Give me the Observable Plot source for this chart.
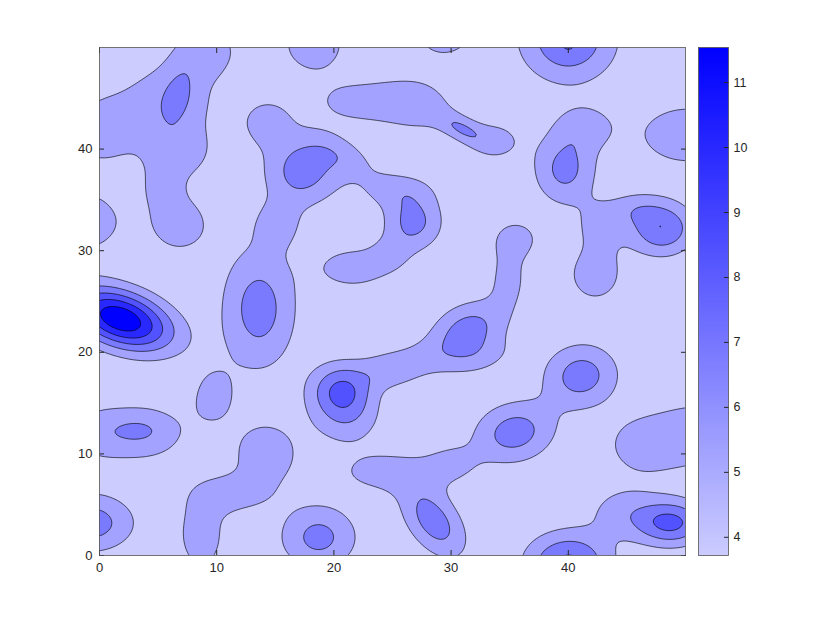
<!DOCTYPE html>
<html><head><meta charset="utf-8">
<script src="https://cdn.jsdelivr.net/npm/d3@7"></script>
<script src="https://cdn.jsdelivr.net/npm/@observablehq/plot@0.6"></script>
<style>
body{margin:0;background:#fff}
#wrap{position:relative;width:830px;height:623px}
#wrap svg{position:absolute;left:0;top:0}
</style>
</head><body><div id="wrap"></div>
<script>
// ---- data ----
const xTicks = [0, 10, 20, 30, 40];
const yTicks = [0, 10, 20, 30, 40];
const cbTicks = [4, 5, 6, 7, 8, 9, 10, 11];
const zMin = 3.72, zMax = 11.54;
const levels = [5.28, 6.85, 8.41, 9.98, 11.54];
const baseValue = 3.72;
const colorLow = "#ccccff", colorHigh = "#0000ff";
const bumpX     = [1.8, 6.0, 6.7, 0.0, 9.2, 6.8, 5.3, 6.8, -1.2, 18.3, 29.4, 22.5, 27.2, 30.9, 33.8, 40.0, 40.0, 39.7, 41.4, 48.0, 42.3, 42.6, 45.5, 50.2, 17.3, 14.3, 20.8, 25.3, 26.8, 21.6, 15.2, 24.8, 13.6, 9.7, 3.8, 3.2, -0.5, -0.8, 14.2, 11.2, 8.7, 18.7, 20.6, 21.2, 24.6, 31.4, 27.2, 34.9, 35.6, 32.5, 24.3, 28.5, 30.0, 35.4, 41.1, 46.3, 51.2, 40.0, 48.8, 44.5];
const bumpY     = [23.3, 44.5, 45.4, 41.7, 49.8, 32.6, 36.3, 39.5, 32.8, 50.3, 51.6, 44.6, 44.3, 42.0, 40.8, 50.8, 50.2, 38.0, 42.2, 32.2, 27.6, 32.5, 34.2, 41.4, 37.8, 42.6, 39.3, 36.0, 32.8, 28.3, 32.6, 29.6, 24.3, 15.7, 12.1, 12.3, 12.0, 3.2, 10.0, 6.0, 2.0, 1.8, 16.3, 13.2, 18.2, 22.2, 19.3, 27.5, 31.2, 19.4, 8.2, 3.4, 9.0, 12.1, 17.7, 10.8, 12.0, -0.8, 3.2, 4.4];
const bumpAmp   = [9.1, 2.4, 1.5, 2.1, 2.2, 2.4, 1.56, 2.0, 2.64, 2.4, 2.4, 2.2, 2.2, 2.6, 2.04, 4.56, 0.42, 3.6, 2.04, 4.55, 2.4, 1.8, 1.56, 2.6, 3.84, 2.16, 1.8, 1.9, 3.6, 2.4, 1.92, 1.3, 3.84, 1.95, 2.5, 0.9, 1.5, 3.96, 2.4, 2.04, 2.4, 3.6, 4.7, 2.04, 1.8, 3.8, 1.6, 2.04, 2.04, 1.5, 2.16, 3.96, 1.8, 3.9, 3.9, 2.2, 2.4, 5.04, 5.04, 1.92];
const bumpSx    = [3.3, 3.2, 2.2, 2.4, 2.0, 2.1, 1.3, 2.0, 2.4, 2.3, 2.2, 3.1, 2.4, 1.6, 1.8, 2.9, 0.6, 1.9, 1.9, 2.0, 1.9, 1.5, 1.6, 3.5, 2.3, 1.6, 2.6, 2.4, 1.8, 2.4, 1.5, 1.3, 2.3, 1.5, 2.9, 1.5, 2.0, 2.7, 2.3, 2.4, 1.6, 2.4, 1.9, 2.2, 1.8, 2.4, 2.3, 1.3, 1.4, 2.4, 3.0, 2.9, 1.8, 2.5, 2.3, 2.5, 2.8, 2.6, 2.2, 2.2];
const bumpSy    = [1.9, 3.3, 1.0, 2.8, 2.0, 2.3, 1.6, 1.8, 2.3, 2.4, 2.2, 1.6, 1.9, 0.8, 1.6, 3.0, 0.8, 2.5, 1.6, 1.9, 2.2, 1.8, 1.2, 2.5, 2.4, 1.8, 1.3, 1.3, 2.0, 1.6, 1.7, 1.3, 4.3, 2.2, 2.3, 0.8, 2.2, 2.05, 2.6, 1.4, 3.0, 2.3, 1.9, 2.0, 1.3, 1.8, 1.4, 2.6, 1.3, 1.3, 1.5, 1.6, 1.5, 2.1, 2.2, 2.3, 2.6, 2.2, 1.6, 1.8];
const bumpAngle = [-24, 0, 78, 0, 0, 0, 0, 0, 0, 0, 0, 0, -20, -32, 0, 0, 0, 0, 0, 0, 0, 0, 0, 0, 0, 0, -30, 0, 0, 0, 0, 0, 0, 0, 0, 0, 0, 0, 0, 0, 0, 0, 0, 0, 0, 35, 15, 0, 0, 15, 0, -60, 0, 20, 35, 0, 0, 0, 0, 0];

// ---- surface ----
const bumps = bumpX.map((x, i) => {
  const a = bumpAngle[i] * Math.PI / 180;
  return {x, y: bumpY[i], amp: bumpAmp[i], c: Math.cos(a), s: Math.sin(a),
          kx: 1 / (2 * bumpSx[i] * bumpSx[i]), ky: 1 / (2 * bumpSy[i] * bumpSy[i])};
});
function surface(x, y) {
  let v = baseValue;
  for (const b of bumps) {
    const dx = x - b.x, dy = y - b.y;
    const u = dx * b.c + dy * b.s, w = -dx * b.s + dy * b.c;
    const e = u * u * b.kx + w * w * b.ky;
    if (e < 30) v += b.amp * Math.exp(-e);
  }
  return v;
}

const font = {fontFamily: "'Liberation Sans', Arial, sans-serif", fontSize: "13px", color: "#262626", background: "transparent", overflow: "visible"};
const colorScale = {type: "linear", domain: [zMin, zMax], range: [colorLow, colorHigh]};

const main = Plot.plot({
  width: 830, height: 623,
  marginLeft: 99, marginRight: 145, marginTop: 47, marginBottom: 68,
  style: font,
  x: {domain: [0, 50], label: null},
  y: {domain: [0, 50], label: null},
  color: colorScale,
  marks: [
    Plot.frame({fill: colorLow}),
    Plot.contour({fill: surface, x1: -1, y1: -1, x2: 51, y2: 51, thresholds: levels,
                  stroke: "#000", strokeWidth: 0.75, strokeOpacity: 0.85, clip: true}),
    Plot.axisX({anchor: "bottom", ticks: xTicks, tickSize: -5, tickPadding: 12, tickFormat: d => d}),
    Plot.axisX({anchor: "top", ticks: xTicks, tickSize: -5, tickFormat: () => ""}),
    Plot.axisY({anchor: "left", ticks: yTicks, tickSize: -5, tickPadding: 12, tickFormat: d => d}),
    Plot.axisY({anchor: "right", ticks: yTicks, tickSize: -5, tickFormat: () => ""}),
    Plot.frame({stroke: "#555", strokeWidth: 0.8})
  ]
});

const bar = Plot.plot({
  width: 830, height: 623,
  marginLeft: 698, marginRight: 102, marginTop: 47, marginBottom: 68,
  style: {...font, fontSize: "12.5px"},
  x: {domain: [0, 1], axis: null},
  y: {domain: [zMin, zMax], label: null},
  color: colorScale,
  marks: [
    Plot.raster({fill: (x, y) => y, x1: 0, x2: 1, y1: zMin, y2: zMax}),
    Plot.axisY({anchor: "right", ticks: cbTicks, tickSize: -5, tickPadding: 10, tickFormat: d => d}),
    Plot.frame({stroke: "#555", strokeWidth: 0.8})
  ]
});

const wrap = document.getElementById("wrap");
wrap.appendChild(main);
wrap.appendChild(bar);
</script>
</body></html>
